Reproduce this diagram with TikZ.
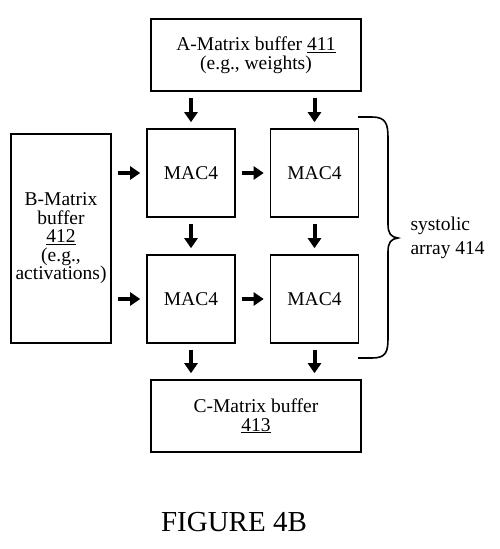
\documentclass[tikz,border=0pt]{standalone}
\usepackage{fontspec}
\setmainfont{Liberation Serif}
\usetikzlibrary{arrows.meta}
\begin{document}
\begin{tikzpicture}[x=1pt,y=-1pt,
  box/.style={draw,line width=1.6pt,inner sep=0pt,align=center,
    font=\fontsize{19.5}{18.5}\selectfont},
  mac/.style={box,minimum width=88pt,minimum height=88pt},
  buf/.style={box,minimum width=210pt,minimum height=72pt},
  flow/.style={line width=4pt,-{Triangle[length=10pt,width=13pt]},
    shorten >=6pt,shorten <=6pt}]
\useasboundingbox (0,0) rectangle (499,549);
\node[buf] (A) at (256,55) {A-Matrix buffer \underline{411}\\(e.g., weights)};
\node[box,minimum width=100pt,minimum height=209pt] (B) at (61,238.5)
  {B-Matrix\\buffer\\\underline{412}\\(e.g.,\\activations)};
\node[mac] (m11) at (191,173) {MAC4};
\node[mac] (m12) at (314.5,173) {MAC4};
\node[mac] (m21) at (191,299) {MAC4};
\node[mac] (m22) at (314.5,299) {MAC4};
\node[buf] (C) at (256,416) {C-Matrix buffer\\\underline{413}};
\draw[flow] (m11.north |- A.south) -- (m11.north);
\draw[flow] (m12.north |- A.south) -- (m12.north);
\draw[flow] (m11) -- (m21);
\draw[flow] (m12) -- (m22);
\draw[flow] (m21.south) -- (m21.south |- C.north);
\draw[flow] (m22.south) -- (m22.south |- C.north);
\draw[flow] (B.east |- m11) -- (m11);
\draw[flow] (B.east |- m21) -- (m21);
\draw[flow] (m11) -- (m12);
\draw[flow] (m21) -- (m22);
\coordinate (bt) at (358,117);
\coordinate (bb) at (358,358);
\coordinate (btip) at (398,238);
\draw[line width=1.6pt] (bt) -- (372,117) .. controls (386,117) and (388,124) .. (388,138)
  -- (388,224) .. controls (388,234) and (391,237) .. (btip)
  .. controls (391,239) and (388,242) .. (388,252)
  -- (388,338) .. controls (388,352) and (386,358) .. (372,358) -- (bb);
\node[anchor=west,align=left,font=\fontsize{19.5}{24}\selectfont] (sa) at (407,238)
  {systolic\\array 414};
\node[font=\fontsize{29}{30}\selectfont] (fig) at (234,522) {FIGURE 4B};
\end{tikzpicture}
\end{document}
